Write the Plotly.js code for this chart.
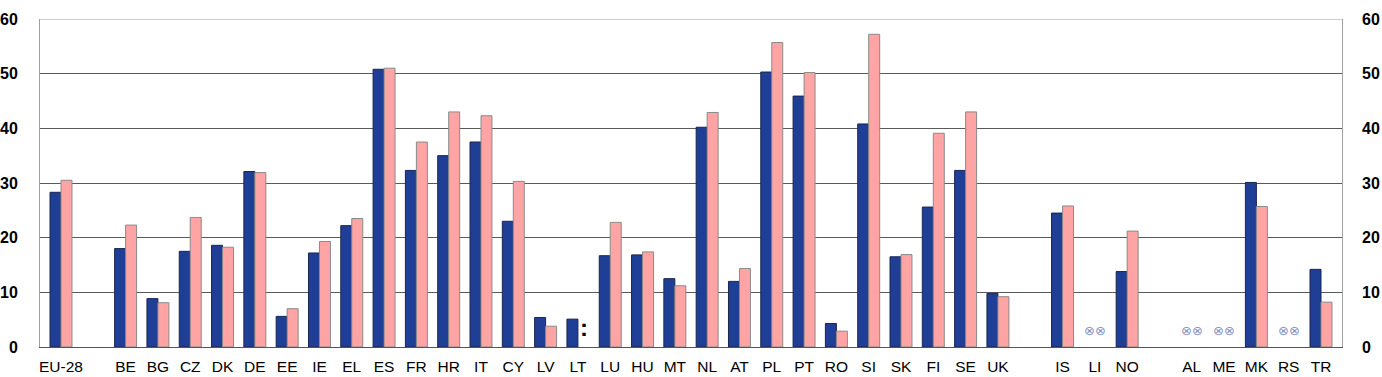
<!DOCTYPE html>
<html>
<head>
<meta charset="utf-8">
<script src="https://cdn.plot.ly/plotly-3.0.1.min.js"></script>
<style>
  html, body { margin: 0; padding: 0; background: #ffffff; }
  #chart { width: 1382px; height: 377px; }
</style>
</head>
<body>
<div id="chart"></div>
<script>
// Categories (blank entries are spacer slots between country groups)
const categories = ["EU-28", " ", "BE", "BG", "CZ", "DK", "DE", "EE", "IE", "EL", "ES", "FR", "HR", "IT", "CY", "LV", "LT", "LU", "HU", "MT", "NL", "AT", "PL", "PT", "RO", "SI", "SK", "FI", "SE", "UK", "  ", "IS", "LI", "NO", "   ", "AL", "ME", "MK", "RS", "TR"];

// Series 1 (dark blue)
const seriesA = [28.3, null, 18.0, 8.85, 17.5, 18.6, 32.1, 5.6, 17.2, 22.2, 50.8, 32.3, 35.0, 37.5, 23.0, 5.4, 5.1, 16.7, 16.85, 12.5, 40.2, 12.0, 50.3, 45.9, 4.3, 40.8, 16.5, 25.6, 32.3, 9.8, null, 24.5, null, 13.8, null, null, null, 30.1, null, 14.2];

// Series 2 (pink)
const seriesB = [30.5, null, 22.3, 8.1, 23.7, 18.25, 31.9, 7.0, 19.3, 23.5, 51.0, 37.5, 43.0, 42.3, 30.3, 3.8, null, 22.8, 17.4, 11.2, 42.9, 14.35, 55.7, 50.2, 2.9, 57.2, 16.9, 39.1, 43.0, 9.2, null, 25.8, null, 21.2, null, null, null, 25.7, null, 8.2];

// Not available markers
const notAvailableBoth = ["LI", "AL", "ME", "RS"];
const confidentialB = ["LT"];

const yTicks = [0, 10, 20, 30, 40, 50, 60];

const FONT = "Liberation Sans, Arial, sans-serif";

const traces = [
  {
    type: "bar", x: categories, y: seriesA, name: "A",
    marker: { color: "#1F3F96", line: { color: "#1a2450", width: 1 } },
    hoverinfo: "x+y"
  },
  {
    type: "bar", x: categories, y: seriesB, name: "B",
    marker: { color: "#FFA4A4", line: { color: "#8a8a8a", width: 1 } },
    hoverinfo: "x+y"
  },
  {
    type: "scatter", x: [categories[0]], y: [null], yaxis: "y2",
    showlegend: false, hoverinfo: "skip", mode: "markers"
  }
];

const annotations = [];
notAvailableBoth.forEach(c => {
  [-5.5, 5.5].forEach(s => {
    annotations.push({
      x: c, y: 3.1, xref: "x", yref: "y", text: "⊗", showarrow: false,
      xshift: s, font: { family: "DejaVu Sans, sans-serif", size: 13, color: "#8592c4" }
    });
  });
});
confidentialB.forEach(c => {
  annotations.push({
    x: c, y: 3.6, xref: "x", yref: "y", text: "<b>:</b>", showarrow: false,
    xshift: 6, font: { family: FONT, size: 24, color: "#000000" }
  });
});

const layout = {
  width: 1382, height: 377,
  margin: { l: 40, r: 40, t: 19, b: 30, pad: 0 },
  paper_bgcolor: "#ffffff", plot_bgcolor: "#ffffff",
  showlegend: false,
  barmode: "group", bargap: 0.32, bargroupgap: 0,
  font: { family: FONT, color: "#000000" },
  xaxis: {
    type: "category", categoryorder: "array", categoryarray: categories,
    range: [-0.65, 39.65],
    showgrid: false, zeroline: false,
    showline: true, linecolor: "#555555", linewidth: 1,
    ticks: "", ticklabelstandoff: 5,
    tickfont: { family: FONT, size: 15.5, color: "#000000" }
  },
  yaxis: {
    range: [0, 60], tickvals: yTicks, ticktext: yTicks.map(String),
    showgrid: true, gridcolor: "#5a5a5a", gridwidth: 1,
    zeroline: false, showline: true, linecolor: "#a0a0a0", linewidth: 1, mirror: true,
    ticks: "", ticklabelstandoff: 18,
    tickfont: { family: FONT, size: 16, color: "#000000", weight: "bold" }
  },
  yaxis2: {
    overlaying: "y", side: "right", range: [0, 60],
    tickvals: yTicks, ticktext: yTicks.map(String),
    showgrid: false, zeroline: false, showline: false,
    ticks: "", ticklabelstandoff: 19,
    tickfont: { family: FONT, size: 16, color: "#000000", weight: "bold" }
  },
  annotations: annotations,
  shapes: [
    { type: "line", xref: "paper", yref: "y", x0: 0, x1: 1, y0: 60, y1: 60, line: { color: "#a0a0a0", width: 1 } }
  ]
};

Plotly.newPlot("chart", traces, layout, { displayModeBar: false, staticPlot: true });
</script>
</body>
</html>
